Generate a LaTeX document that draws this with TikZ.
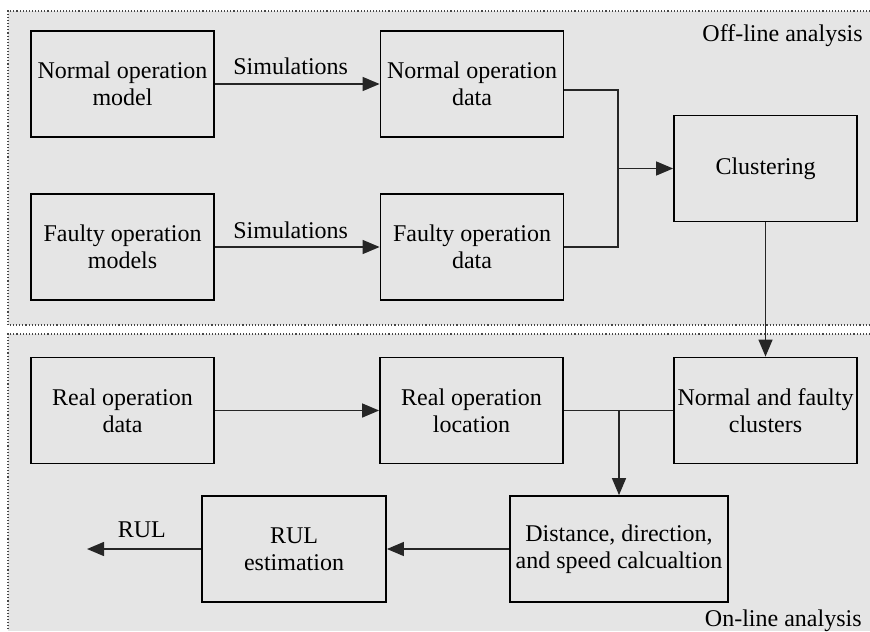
\documentclass[tikz,border=0pt]{standalone}
\usepackage{fontspec}
\setmainfont{Liberation Serif}
\usetikzlibrary{arrows.meta,calc}
\definecolor{panelgray}{RGB}{229,229,229}
\definecolor{dotgray}{RGB}{70,70,70}
\begin{document}
\begin{tikzpicture}[x=0.5pt,y=-0.5pt,
  txt/.style={font=\fontsize{12}{13.5}\selectfont},
  box/.style={txt, draw=black, line width=0.9pt, minimum width=91.5pt,
    minimum height=53pt, inner sep=0pt, align=center},
  conn/.style={line width=0.7pt, draw=black!85},
  arr/.style={conn, -{Triangle[length=8.5pt,width=7pt]}},
  lbl/.style={txt, inner sep=0pt},
  border/.style={draw=dotgray, line width=0.55pt, dash pattern=on 0.55pt off 1pt}]
\useasboundingbox (0,0) rectangle (870,631);

% panels
\fill[panelgray] (8,11) rectangle (870,325);
\fill[panelgray] (8,334) rectangle (870,631);
\draw[border] (870,11) -- (8,11) -- (8,325) -- (870,325);
\draw[border] (870,334) -- (8,334) -- (8,631);

\node[lbl, anchor=base east] (offl) at (863,42) {Off-line analysis};
\node[lbl, anchor=base east] (onl) at (862,626) {On-line analysis};

% off-line stage
\node[box] (nmodel) at (122.5,84) {Normal operation\\model};
\node[box] (fmodel) at (122.5,247) {Faulty operation\\models};
\node[box] (ndata) at (472,84) {Normal operation\\data};
\node[box] (fdata) at (472,247) {Faulty operation\\data};
\node[box] (clust) at (765.5,168.5) {Clustering};

% on-line stage
\node[box] (rdata) at (122.5,410.5) {Real operation\\data};
\node[box] (rloc) at (471.5,410.5) {Real operation\\location};
\node[box] (nfclust) at (765.5,410.5) {Normal and faulty\\clusters};
\node[box, minimum width=109pt] (dist) at (619,549) {Distance, direction,\\and speed calcualtion};
\node[box, minimum width=92pt] (rul) at (294,549) {RUL\\estimation};
\coordinate (rulout) at (87,549);
\coordinate (mergeoff) at (618,168.5);
\coordinate (split) at (619,410.5);

% connectors
\draw[arr] (nmodel) -- node[lbl, anchor=base, pos=0.46, yshift=4.5pt] (sim1) {Simulations} (ndata);
\draw[arr] (fmodel) -- node[lbl, anchor=base, pos=0.46, yshift=4.5pt] (sim2) {Simulations} (fdata);
\draw[conn] ($(ndata.east)+(0,6)$) -| (mergeoff) |- (fdata.east);
\draw[arr] (mergeoff) -- (clust.west);
\draw[arr] (clust) -- (nfclust);
\draw[arr] (rdata) -- (rloc);
\draw[conn] (rloc.east) -- (nfclust.west);
\draw[arr] (split) -- (dist.north);
\draw[arr] (dist) -- (rul);
\draw[arr] (rul.west) -- node[lbl, anchor=base, pos=0.52, yshift=6pt] (rullbl) {RUL} (rulout);
\end{tikzpicture}
\end{document}
